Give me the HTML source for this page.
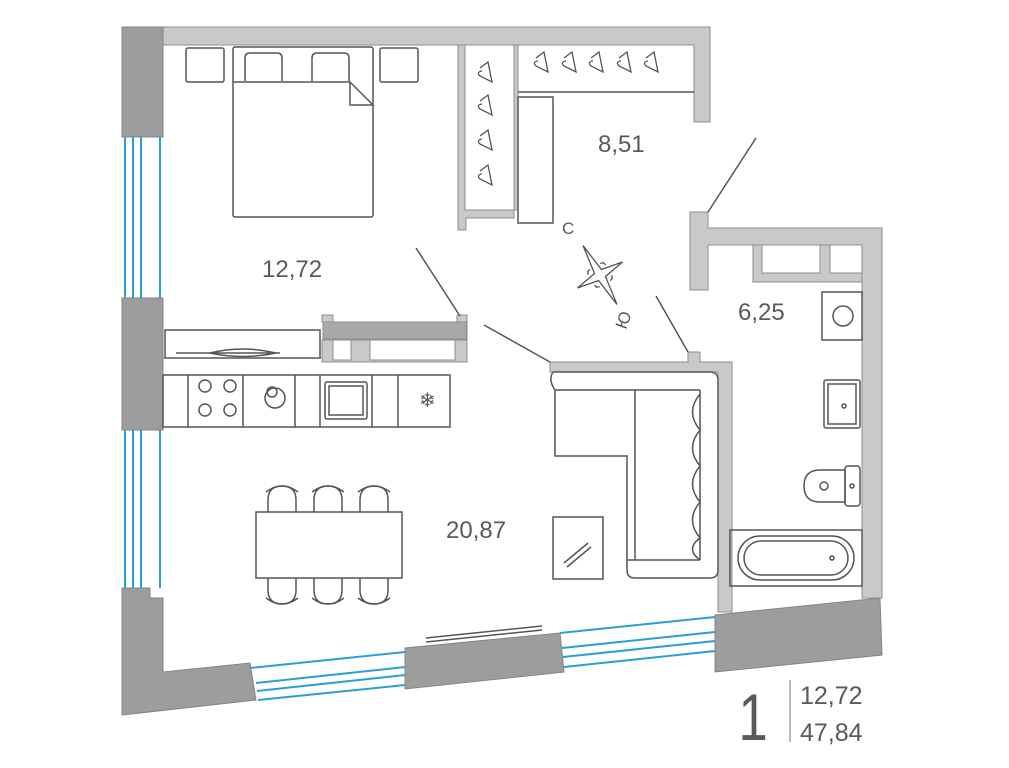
<!DOCTYPE html>
<html><head><meta charset="utf-8"><style>
html,body{margin:0;padding:0;background:#fff}
svg{display:block}
text{font-family:"Liberation Sans Narrow","Liberation Sans",sans-serif;fill:#5a5a5a}
</style></head><body>
<svg width="1009" height="768" viewBox="0 0 1009 768" xmlns="http://www.w3.org/2000/svg">
<g fill="#c9c9c9" stroke="#8e8e8e" stroke-width="1">
<path d="M163,27 H710 V122 H694 V45 H163 Z"/>
<path d="M458,45 H465 V210 H518 V45 H514 V218 H466 V230 H458 Z"/>
<path d="M690,212 H708 V228 H882 V598 H862 V245 H708 V290 H690 Z"/>
<path d="M753,245 H762 V273 H820 V245 H830 V273 H862 V282 H753 Z"/>
<path d="M688,352 H700 V362 H732 V612 H718 V372 H550 V362 H688 Z"/>
<path d="M163,358 H467 V315 H457 V322 H322 V315 H333 V358 Z"/>
<rect x="322" y="340" width="145" height="22"/>
</g>
<rect x="323" y="322" width="143" height="17" fill="#a9a9a9" stroke="#8e8e8e"/>
<rect x="333" y="340" width="18" height="20" fill="#fff" stroke="#8e8e8e"/>
<rect x="370" y="340" width="85" height="20" fill="#fff" stroke="#8e8e8e"/>
<g fill="#9d9d9d" stroke="#858585">
<rect x="122" y="27" width="41" height="110"/>
<rect x="122" y="298" width="41" height="132"/>
<path d="M122,588 H150 V598 H163 V672 L250,663 L256,700 L122,715 Z"/>
<path d="M405,648 L560,633 L564,672 L405,689 Z"/>
<path d="M715,615 L880,598 L882,655 L715,672 Z"/>
</g>
<g stroke="#2a9fd6" stroke-width="2" fill="none">
<line x1="125" y1="137" x2="125" y2="298"/><line x1="133" y1="137" x2="133" y2="298"/><line x1="141" y1="137" x2="141" y2="298"/><line x1="160" y1="137" x2="160" y2="298"/>
<line x1="125" y1="430" x2="125" y2="588"/><line x1="133" y1="430" x2="133" y2="588"/><line x1="141" y1="430" x2="141" y2="588"/><line x1="160" y1="430" x2="160" y2="588"/>
<line x1="250" y1="668" x2="405" y2="652"/><line x1="256" y1="683" x2="405" y2="667"/><line x1="257" y1="691" x2="405" y2="675"/><line x1="258" y1="700" x2="405" y2="685"/>
<line x1="560" y1="633" x2="715" y2="617"/><line x1="562" y1="648" x2="715" y2="632"/><line x1="563" y1="657" x2="715" y2="641"/><line x1="564" y1="667" x2="715" y2="651"/>
</g>
<g fill="none" stroke="#555" stroke-width="1.5">
<rect x="186" y="48" width="38" height="34" rx="2"/><rect x="380" y="48" width="38" height="34" rx="2"/>
<rect x="233" y="47" width="140" height="170" rx="2"/>
<path d="M245,81 V58 Q245,53 250,53 H277 Q282,53 282,58 V81"/>
<path d="M312,81 V58 Q312,53 317,53 H344 Q349,53 349,58 V81"/>
<line x1="233" y1="82" x2="350" y2="82"/><path d="M350,82 V105 H373 Z"/>
<rect x="518" y="97" width="35" height="126"/>
<line x1="518" y1="92" x2="694" y2="92"/>
<path d="M416,248 L460,316"/><path d="M484,325 L550,362"/><path d="M656,296 L688,352"/><path d="M708,212 L756,138"/>
<rect x="165" y="330" width="155" height="28"/>
<path d="M176,353 H280 M210,353 Q243,345 276,353 Q243,360 210,353"/>
<rect x="163" y="375" width="287" height="52"/>
<line x1="188" y1="375" x2="188" y2="427"/><line x1="243" y1="375" x2="243" y2="427"/><line x1="295" y1="375" x2="295" y2="427"/><line x1="320" y1="375" x2="320" y2="427"/><line x1="372" y1="375" x2="372" y2="427"/><line x1="398" y1="375" x2="398" y2="427"/>
<circle cx="205" cy="386" r="6"/><circle cx="230" cy="386" r="6"/><circle cx="205" cy="410" r="6"/><circle cx="230" cy="410" r="6"/>
<circle cx="275" cy="398" r="10"/><circle cx="272" cy="392" r="5"/>
<rect x="325" y="382" width="42" height="37" rx="2"/><rect x="329" y="386" width="34" height="29"/>
<path d="M553,372 H710 Q718,372 718,380 V570 Q718,578 710,578 H635 Q627,578 627,570 V456 H555 V390 Q548,380 553,372"/>
<line x1="635" y1="390" x2="635" y2="456"/><line x1="555" y1="390" x2="700" y2="390"/><line x1="700" y1="390" x2="700" y2="560"/><line x1="635" y1="456" x2="635" y2="560"/><line x1="627" y1="560" x2="700" y2="560"/>
<path d="M700,394 Q685,412 700,430 Q685,448 700,466 Q685,484 700,502 Q685,520 700,538 Q685,549 700,560"/>
<rect x="553" y="517" width="50" height="62"/><path d="M564,563 L588,543 M567,567 L591,547"/>
<rect x="256" y="512" width="146" height="66"/>
<g id="ch"><path d="M268,512 V500 Q268,486 282,486 Q296,486 296,500 V512"/><path d="M266,492 Q282,480 298,492"/></g>
<use href="#ch" x="46"/><use href="#ch" x="92"/>
<g transform="translate(0,1090) scale(1,-1)"><use href="#ch"/><use href="#ch" x="46"/><use href="#ch" x="92"/></g>
<rect x="822" y="292" width="40" height="48"/><circle cx="843" cy="316" r="10"/>
<rect x="824" y="380" width="36" height="48" rx="2"/><rect x="828" y="384" width="28" height="40"/><circle cx="844" cy="406" r="2"/>
<path d="M845,470 H820 Q804,470 804,486 Q804,502 820,502 H845 Z"/><rect x="845" y="466" width="15" height="40" rx="3"/><circle cx="824" cy="486" r="4"/><circle cx="852" cy="486" r="2"/>
<rect x="730" y="530" width="132" height="56"/><rect x="738" y="536" width="116" height="44" rx="22"/><rect x="744" y="541" width="104" height="34" rx="17"/><circle cx="832" cy="558" r="2"/>
<path d="M426,638 L542,626"/><path d="M426,642 L542,630"/>
</g>
<g fill="none" stroke="#555" stroke-width="1.3">
<g id="hg"><path d="M480,68 L488,62 L492,82 L480,76 Q476,72 482,71"/></g>
<use href="#hg" y="33"/><use href="#hg" y="68"/><use href="#hg" y="103"/>
<use href="#hg" x="56" y="-10"/><use href="#hg" x="84" y="-10"/><use href="#hg" x="111" y="-10"/><use href="#hg" x="139" y="-10"/><use href="#hg" x="166" y="-10"/>
<g transform="translate(600,275) rotate(-30)">
<path d="M0,-34 L4,-4 L26,0 L4,4 L0,34 L-4,4 L-26,0 L-4,-4 Z"/>
<path d="M6,-10 L9,-9 L10,-6 M6,10 L9,9 L10,6 M-6,-10 L-9,-9 L-10,-6 M-6,10 L-9,9 L-10,6"/>
</g>
</g>
<text x="419" y="407" font-size="20" fill="#555">❄</text>
<text x="562" y="234" font-size="17">С</text>
<text x="0" y="0" font-size="17" transform="translate(626,330) rotate(-70)">Ю</text>
<text x="598" y="152" font-size="24">8,51</text>
<text x="262" y="277" font-size="24">12,72</text>
<text x="738" y="320" font-size="24">6,25</text>
<text x="446" y="538" font-size="24">20,87</text>
<text x="738" y="740" font-size="66" fill="#555" transform="translate(740,0) scale(0.8,1) translate(-740,0)">1</text>
<line x1="790" y1="680" x2="790" y2="742" stroke="#777"/>
<text x="800" y="704" font-size="25">12,72</text>
<text x="800" y="741" font-size="25">47,84</text>
</svg>
</body></html>
